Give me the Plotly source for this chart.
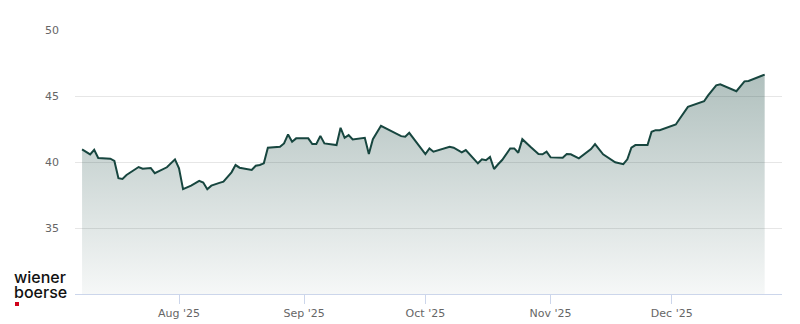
import plotly.graph_objects as go

# Price points (date, close)
dates = [
    "2025-07-08", "2025-07-10", "2025-07-11", "2025-07-12", "2025-07-15", "2025-07-16",
    "2025-07-17", "2025-07-18", "2025-07-19", "2025-07-22", "2025-07-23", "2025-07-25",
    "2025-07-26", "2025-07-29", "2025-07-31", "2025-08-01", "2025-08-02", "2025-08-04",
    "2025-08-06", "2025-08-07", "2025-08-08", "2025-08-09", "2025-08-11", "2025-08-12",
    "2025-08-14", "2025-08-15", "2025-08-16", "2025-08-19", "2025-08-20", "2025-08-21",
    "2025-08-22", "2025-08-23", "2025-08-26", "2025-08-27", "2025-08-28", "2025-08-29",
    "2025-08-30", "2025-09-02", "2025-09-03", "2025-09-04", "2025-09-05", "2025-09-06",
    "2025-09-09", "2025-09-10", "2025-09-11", "2025-09-12", "2025-09-13", "2025-09-16",
    "2025-09-17", "2025-09-18", "2025-09-20", "2025-09-23", "2025-09-25", "2025-09-26",
    "2025-09-27", "2025-10-01", "2025-10-02", "2025-10-03", "2025-10-07", "2025-10-08",
    "2025-10-10", "2025-10-11", "2025-10-14", "2025-10-15", "2025-10-16", "2025-10-17",
    "2025-10-18", "2025-10-19", "2025-10-20", "2025-10-22", "2025-10-23", "2025-10-24",
    "2025-10-25", "2025-10-27", "2025-10-29", "2025-10-30", "2025-10-31", "2025-11-01",
    "2025-11-04", "2025-11-05", "2025-11-06", "2025-11-08", "2025-11-11", "2025-11-12",
    "2025-11-14", "2025-11-17", "2025-11-19", "2025-11-20", "2025-11-21", "2025-11-22",
    "2025-11-23", "2025-11-25", "2025-11-26", "2025-11-27", "2025-11-28", "2025-12-02",
    "2025-12-03", "2025-12-05", "2025-12-09", "2025-12-10", "2025-12-12", "2025-12-13",
    "2025-12-17", "2025-12-19", "2025-12-20", "2025-12-24",
]
prices = [
    40.96, 40.58, 40.93, 40.30, 40.25, 40.08,
    38.77, 38.72, 39.02, 39.62, 39.49, 39.55,
    39.15, 39.60, 40.20, 39.52, 37.94, 38.21,
    38.57, 38.44, 37.94, 38.21, 38.42, 38.51,
    39.22, 39.77, 39.57, 39.40, 39.72, 39.77,
    39.90, 41.08, 41.15, 41.41, 42.09, 41.53,
    41.79, 41.79, 41.36, 41.36, 41.98, 41.41,
    41.28, 42.59, 41.83, 42.04, 41.71, 41.83,
    40.60, 41.73, 42.74, 42.29, 41.96, 41.91,
    42.21, 40.60, 41.03, 40.78, 41.15, 41.08,
    40.73, 40.90, 39.90, 40.20, 40.13, 40.38,
    39.47, 39.83, 40.15, 41.03, 41.03, 40.70,
    41.73, 41.15, 40.60, 40.58, 40.78, 40.35,
    40.32, 40.60, 40.58, 40.28, 40.98, 41.36,
    40.58, 39.98, 39.83, 40.20, 41.08, 41.28,
    41.28, 41.28, 42.29, 42.41, 42.41, 42.84,
    43.30, 44.18, 44.60, 45.05, 45.81, 45.88,
    45.36, 46.11, 46.14, 46.62,
]

y_ticks = [35, 40, 45, 50]
x_ticks = ["2025-08-01", "2025-09-01", "2025-10-01", "2025-11-01", "2025-12-01"]
x_tick_labels = ["Aug '25", "Sep '25", "Oct '25", "Nov '25", "Dec '25"]

LINE = "#17463f"
FONT = "DejaVu Sans"

ML, MR, MT, MB = 75, 18, 30, 30
PW, PH = 800 - ML - MR, 324 - MT - MB


def px(x):
    return (x - ML) / PW


def py(y):
    return (324 - MB - y) / PH


fig = go.Figure()
fig.add_trace(go.Scatter(
    x=dates, y=prices, mode="lines",
    line=dict(color=LINE, width=2),
    fill="tozeroy",
    fillgradient=dict(
        type="vertical",
        start=30, stop=max(prices),
        colorscale=[[0, "rgba(23,70,63,0.04)"], [1, "rgba(23,70,63,0.34)"]],
    ),
    hoverinfo="skip",
    showlegend=False,
))

fig.update_layout(
    width=800, height=324,
    margin=dict(l=ML, r=MR, t=MT, b=MB),
    paper_bgcolor="white", plot_bgcolor="white",
    font=dict(family=FONT, size=11, color="#666666"),
    xaxis=dict(
        type="date", automargin=False,
        range=["2025-07-06 06:00", "2025-12-28 07:00"],
        tickvals=x_ticks, ticktext=x_tick_labels,
        showgrid=False, zeroline=False,
        showline=True, linecolor="#ccd6eb", linewidth=1,
        ticks="outside", ticklen=9, tickcolor="#ccd6eb", tickwidth=1,
        tickfont=dict(family=FONT, size=11, color="#666666"),
    ),
    yaxis=dict(
        range=[30, 50], automargin=False,
        tickvals=y_ticks,
        showgrid=True, gridcolor="#e6e6e6", gridwidth=1,
        zeroline=False, showline=False,
        ticks="", ticklabelstandoff=15,
        tickfont=dict(family=FONT, size=11, color="#666666"),
    ),
)

# wiener boerse logo
LOGO_FONT = dict(family="Inter", size=16, color="#111111", weight=500)
fig.add_annotation(text="wiener", xref="paper", yref="paper",
                   x=px(13), y=py(277), xanchor="left", yanchor="middle",
                   showarrow=False, font=LOGO_FONT, borderpad=0)
fig.add_annotation(text="boerse", xref="paper", yref="paper",
                   x=px(13), y=py(292), xanchor="left", yanchor="middle",
                   showarrow=False, font=LOGO_FONT, borderpad=0)
fig.add_shape(type="rect", xref="paper", yref="paper",
              x0=px(15), x1=px(19), y0=py(302), y1=py(306),
              fillcolor="#d0021b", line=dict(width=0))

fig.write_html("out.html")
